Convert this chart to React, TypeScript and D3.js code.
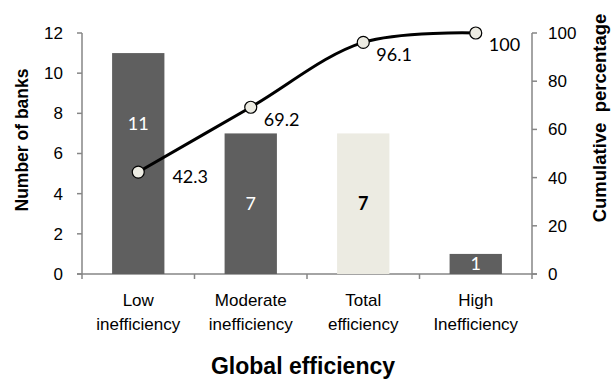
import React, { useEffect } from "react";
import * as d3 from "d3";

// Banks grouped by global efficiency class
const categories = ["Low inefficiency", "Moderate inefficiency", "Total efficiency", "High Inefficiency"];
const categoryLines = [["Low", "inefficiency"], ["Moderate", "inefficiency"], ["Total", "efficiency"], ["High", "Inefficiency"]];
const bankCounts = [11, 7, 7, 1];
const cumulativePct = [42.3, 69.2, 96.1, 100];
const highlighted = [false, false, true, false];
const leftTicks = [0, 2, 4, 6, 8, 10, 12];
const rightTicks = [0, 20, 40, 60, 80, 100];

const W = 611;
const H = 379;
const margin = { left: 82, right: 79, top: 33, bottom: 105 };

const tickFont = "'Liberation Sans Narrow', 'Arial Narrow', 'Liberation Sans', Arial, sans-serif";
const titleFont = "'Liberation Sans', Arial, sans-serif";
const valueFont = "Lato, 'Open Sans', sans-serif";

export default function App() {
  useEffect(() => {
    document.body.style.margin = "0";
  }, []);

  const x0 = margin.left;
  const x1 = W - margin.right;
  const y0 = H - margin.bottom;
  const y1 = margin.top;

  const x = d3.scaleBand<string>().domain(categories).range([x0, x1]).paddingInner(0.535).paddingOuter(0.2675);
  const step = x.step();
  const yL = d3.scaleLinear().domain([0, 12]).range([y0, y1]);
  const yR = d3.scaleLinear().domain([0, 100]).range([y0, y1]);

  const cx = (c: string) => (x(c) as number) + x.bandwidth() / 2;
  const pts: [number, number][] = categories.map((c, i) => [cx(c), yR(cumulativePct[i])]);
  const line = d3.line().curve(d3.curveCatmullRom.alpha(0.5))(pts) as string;

  const axisColor = "#868686";
  const boundaries = d3.range(categories.length + 1).map((i) => x0 + i * step);

  return (
    <svg width={W} height={H} style={{ display: "block", background: "#fff" }}>
      {/* axes */}
      <g stroke={axisColor} strokeWidth={1.5} fill="none">
        <line x1={x0} x2={x0} y1={y1} y2={y0} />
        <line x1={x1} x2={x1} y1={y1} y2={y0} />
        <line x1={x0 - 5} x2={x1 + 5} y1={y0} y2={y0} />
        {leftTicks.map((t) => (
          <line key={"l" + t} x1={x0 - 5} x2={x0} y1={yL(t)} y2={yL(t)} />
        ))}
        {rightTicks.map((t) => (
          <line key={"r" + t} x1={x1} x2={x1 + 5} y1={yR(t)} y2={yR(t)} />
        ))}
        {boundaries.map((b, i) => (
          <line key={"b" + i} x1={b} x2={b} y1={y0} y2={y0 + 5} />
        ))}
      </g>

      {/* tick labels */}
      <g fontFamily={tickFont} fontSize={17} fill="#000">
        {leftTicks.map((t) => (
          <text key={"lt" + t} x={x0 - 19} y={yL(t)} dy="0.35em" textAnchor="end">{t}</text>
        ))}
        {rightTicks.map((t) => (
          <text key={"rt" + t} x={x1 + 16} y={yR(t)} dy="0.35em" textAnchor="start">{t}</text>
        ))}
        {categories.map((c, i) => (
          <text key={"c" + c} x={cx(c)} y={y0 + 32} textAnchor="middle">
            {categoryLines[i].map((s, j) => (
              <tspan key={j} x={cx(c)} dy={j === 0 ? 0 : 24}>{s}</tspan>
            ))}
          </text>
        ))}
      </g>

      {/* axis titles */}
      <g fontFamily={titleFont} fontWeight="bold" fill="#000">
        <text x={303} y={374} fontSize={23} textAnchor="middle">Global efficiency</text>
        <text transform="translate(28, 140) rotate(-90)" fontSize={17.5} textAnchor="middle">Number of banks</text>
        <text transform="translate(606, 118) rotate(-90)" fontSize={18.5} textAnchor="middle" style={{ whiteSpace: "pre" }}>{"Cumulative  percentage"}</text>
      </g>

      {/* bars */}
      {categories.map((c, i) => (
        <rect key={"bar" + c} x={x(c)} y={yL(bankCounts[i])} width={x.bandwidth()} height={y0 - yL(bankCounts[i])}
          fill={highlighted[i] ? "#ecebe2" : "#5f5f5f"} />
      ))}

      {/* bar value labels: centred, lifted above the cumulative marker when they would meet */}
      {categories.map((c, i) => {
        let ly = yL(bankCounts[i] / 2);
        const my = pts[i][1];
        if (Math.abs(ly - my) < 20) ly = my - 48;
        return (
          <text key={"bv" + c} x={cx(c)} y={ly} dy="0.35em" textAnchor="middle" fontFamily={valueFont} fontSize={18}
            fill={highlighted[i] ? "#000" : "#fff"} fontWeight={highlighted[i] ? "bold" : "normal"}>
            {bankCounts[i]}
          </text>
        );
      })}

      {/* cumulative line */}
      <path d={line} fill="none" stroke="#000" strokeWidth={3} />
      {pts.map((p, i) => (
        <circle key={"m" + i} cx={p[0]} cy={p[1]} r={6} fill="#ecebe2" stroke="#000" strokeWidth={1.2} />
      ))}

      {/* cumulative labels, pushed clear of a bar they would cover */}
      {pts.map((p, i) => {
        const c = categories[i];
        let lx = p[0] + 13;
        let ly = p[1] + 12;
        const barTop = yL(bankCounts[i]);
        if (ly - 8 > barTop) {
          lx = (x(c) as number) + x.bandwidth() + 8;
          ly = p[1] + 5;
        }
        return (
          <text key={"cl" + i} x={lx} y={ly} dy="0.35em" textAnchor="start" fontFamily={valueFont} fontSize={18} fill="#000">
            {cumulativePct[i]}
          </text>
        );
      })}
    </svg>
  );
}
